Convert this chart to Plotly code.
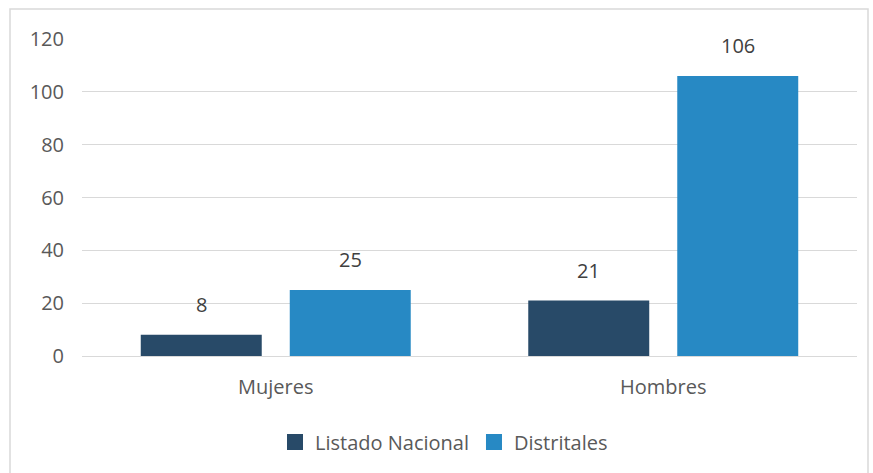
import plotly.graph_objects as go

categories = ["Mujeres", "Hombres"]
series_names = ["Listado Nacional", "Distritales"]
listado_nacional = [8, 21]
distritales = [25, 106]
y_ticks = [0, 20, 40, 60, 80, 100, 120]

colors = ["#284A68", "#2789C4"]
font_family = "'Open Sans', Lato, sans-serif"
text_color = "#595959"
fs = 20

fig = go.Figure()
all_values = [listado_nacional, distritales]
for name, vals, col in zip(series_names, all_values, colors):
    fig.add_trace(go.Bar(x=categories, y=vals, name=name, marker_color=col,
                         marker_line_width=0, showlegend=False))
# legend entries with larger square swatches
for name, col in zip(series_names, colors):
    fig.add_trace(go.Scatter(x=[None], y=[None], mode="markers", name=name,
                             marker=dict(symbol="square", size=19, color=col),
                             showlegend=True))

# data labels
slot_px = 149
for i, vals in enumerate(all_values):
    shift = (i - 0.5) * slot_px
    for c, v in zip(categories, vals):
        fig.add_annotation(x=c, y=v, text=str(v), showarrow=False,
                           xref="x", yref="y", xshift=shift, yshift=15,
                           yanchor="bottom",
                           font=dict(family=font_family, size=fs, color="#404040"))

L, R, T, B = 82, 16, 39, 117
W, H = 873, 473
pw, ph = W - L - R, H - T - B
fig.add_shape(type="rect", xref="paper", yref="paper",
              x0=(10 - L) / pw, x1=(868 - L) / pw,
              y0=(H - B - 480) / ph, y1=(H - B - 9) / ph,
              line=dict(color="#D9D9D9", width=1.5), fillcolor="rgba(0,0,0,0)",
              layer="below")

fig.update_layout(
    width=W, height=H,
    margin=dict(l=L, r=R, t=T, b=B),
    paper_bgcolor="white", plot_bgcolor="white",
    barmode="group", bargap=0.231, bargroupgap=0.188,
    font=dict(family=font_family, size=fs, color=text_color),
    showlegend=True,
    legend=dict(orientation="h", x=(444 - L) / pw, xanchor="center",
                y=(H - B - 442) / ph, yanchor="middle",
                font=dict(family=font_family, size=fs, color=text_color),
                itemwidth=30, traceorder="normal", tracegroupgap=0),
    xaxis=dict(showgrid=False, showline=False, ticks="", ticklabelstandoff=17,
               tickfont=dict(size=fs, color=text_color)),
    yaxis=dict(range=[0, 120], tickvals=y_ticks, showgrid=True,
               gridcolor="#D9D9D9", gridwidth=1.3, zeroline=True,
               zerolinecolor="#D9D9D9", zerolinewidth=1.3, showline=False,
               ticks="", ticklabelstandoff=17,
               tickfont=dict(size=fs, color=text_color)),
)

fig.write_html("out.html", config={"displayModeBar": False},
               post_script="document.body.style.margin='0';")
